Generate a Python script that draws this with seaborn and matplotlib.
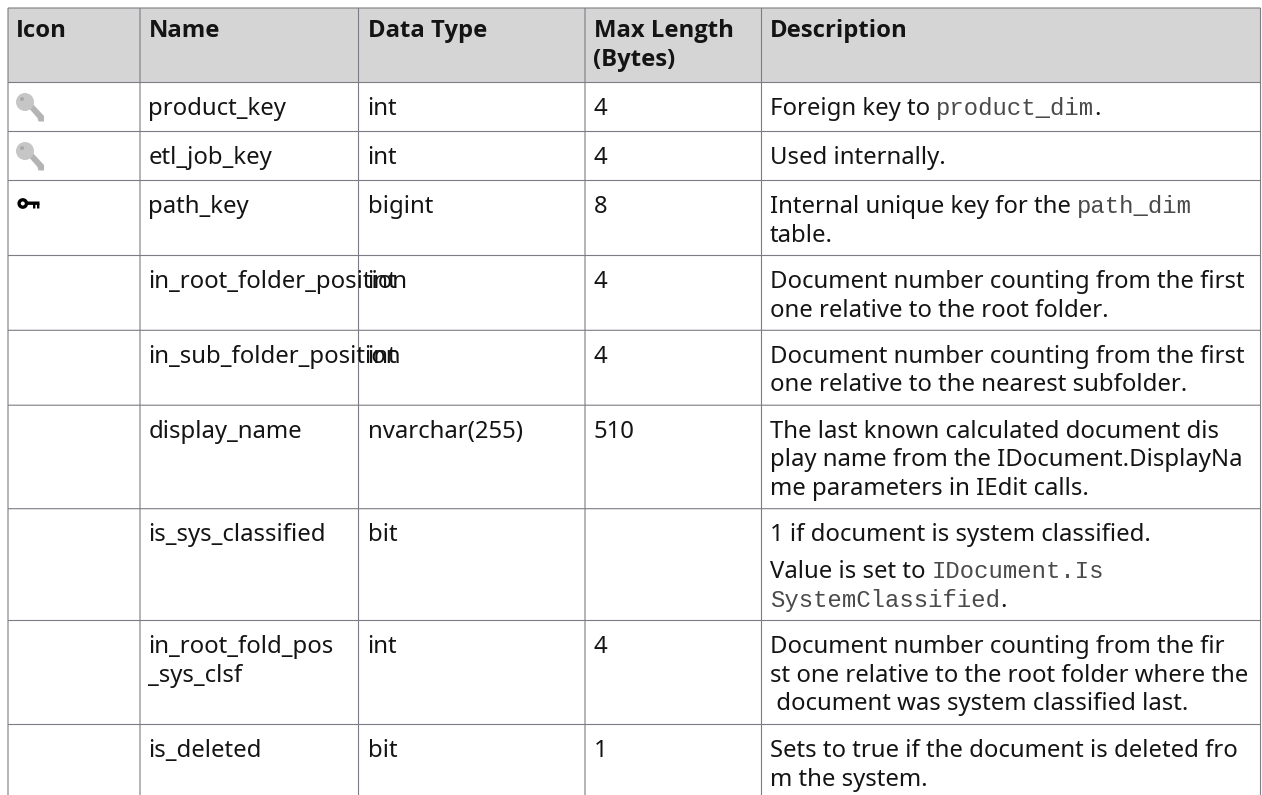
import matplotlib
matplotlib.use('Agg')
import matplotlib.pyplot as plt
from matplotlib.patches import Circle, Polygon, Rectangle
import pandas as pd
import seaborn as sns

# table content
headers = ['Icon', 'Name', 'Data Type', ['Max Length', '(Bytes)'], 'Description']
icons = ['foreign', 'foreign', 'primary', None, None, None, None, None, None]
names = ['product_key', 'etl_job_key', 'path_key', 'in_root_folder_position',
         'in_sub_folder_position', 'display_name', 'is_sys_classified',
         ['in_root_fold_pos', '_sys_clsf'], 'is_deleted']
data_types = ['int', 'int', 'bigint', 'int', 'int', 'nvarchar(255)', 'bit', 'int', 'bit']
max_lengths = ['4', '4', '8', '4', '4', '510', '', '4', '1']
# each description is a list of lines, a line is a list of (text, is_code) runs
descriptions = [
    [[('Foreign key to ', False), ('product_dim', True), ('.', False)]],
    [[('Used internally.', False)]],
    [[('Internal unique key for the ', False), ('path_dim', True)], [('table.', False)]],
    [[('Document number counting from the first', False)], [('one relative to the root folder.', False)]],
    [[('Document number counting from the first', False)], [('one relative to the nearest subfolder.', False)]],
    [[('The last known calculated document dis', False)],
     [('play name from the IDocument.DisplayNa', False)],
     [('me parameters in IEdit calls.', False)]],
    [[('1 if document is system classified.', False)],
     [('Value is set to ', False), ('IDocument.Is', True)],
     [('SystemClassified', True), ('.', False)]],
    [[('Document number counting from the fir', False)],
     [('st one relative to the root folder where the', False)],
     [(' document was system classified last.', False)]],
    [[('Sets to true if the document is deleted fro', False)], [('m the system.', False)]],
]

# layout, in pixels
col_edges = [8.0, 140.0, 358.5, 585.0, 761.5, 1260.5]
row_edges = [8.0, 82.5, 131.5, 180.5, 255.5, 330.3, 405.2, 508.7, 620.5, 724.5]
text_x = [16, 148.5, 367.5, 593.5, 770]
line_step = 28.8
head_baseline = 28.8
first_baseline = 32.3
# extra gap before the second paragraph of a description
para_gap = {(6, 1): 8.2}
BOTTOM = 795
font_px = 23.9
line_color = '#7c7c84'
header_color = '#d5d5d5'
text_color = '#141414'

sns.set_theme(style='white')
plt.rcParams['font.family'] = ['Noto Sans', 'DejaVu Sans']
plt.rcParams['path.snap'] = False

dpi = 100
fontsize = font_px * 72 / dpi
fig = plt.figure(figsize=(12.62, 7.95), dpi=dpi)
ax = fig.add_axes([0, 0, 1, 1])
sns.despine(ax=ax, left=True, bottom=True)

ax.add_patch(Rectangle((col_edges[0], row_edges[0]), col_edges[-1] - col_edges[0],
                       row_edges[1] - row_edges[0], fc=header_color, ec='none', zorder=0))

# grid rules as a long table, one unit per rule
rules = []
for i, y in enumerate(row_edges):
    rules += [(f'h{i}', col_edges[0], y), (f'h{i}', col_edges[-1], y)]
for i, x in enumerate(col_edges):
    rules += [(f'v{i}', x, row_edges[0]), (f'v{i}', x, BOTTOM)]
rules = pd.DataFrame(rules, columns=['rule', 'x', 'y'])
sns.lineplot(data=rules, x='x', y='y', units='rule', estimator=None, sort=False,
             color=line_color, linewidth=0.8, ax=ax, legend=False, zorder=1,
             solid_capstyle='butt')
ax.set_xlim(0, 1262)
ax.set_ylim(795, 0)
ax.axis('off')

fig.canvas.draw()
renderer = fig.canvas.get_renderer()


def advance(s, **kw):
    # width with trailing spaces kept, measured against a bar
    a = ax.text(0, 0, s + '|', fontsize=fontsize, **kw)
    b = ax.text(0, 0, '|', fontsize=fontsize, **kw)
    w = a.get_window_extent(renderer).width - b.get_window_extent(renderer).width
    a.remove()
    b.remove()
    return w


def draw_cell(x, baseline, value, **kw):
    lines = value if isinstance(value, list) else [value]
    for i, line in enumerate(lines):
        ax.text(x, baseline + i * line_step, line, va='baseline', ha='left',
                color=text_color, fontsize=fontsize, zorder=3, **kw)


def draw_runs(x, baseline, runs):
    for s, is_code in runs:
        if is_code:
            ax.text(x, baseline, s, va='baseline', ha='left', color='#4a4a4a',
                    family='Liberation Mono', fontsize=fontsize, zorder=3)
            x += advance(s, family='Liberation Mono')
        else:
            ax.text(x, baseline, s, va='baseline', ha='left', color=text_color,
                    fontsize=fontsize, zorder=3)
            x += advance(s)


def foreign_key(top):
    # grey key, head upper left and shaft running down right
    cx, cy = 25, top + 19.5
    ax.add_patch(Polygon([(27, cy + 4), (31, cy), (44, cy + 14), (44, cy + 19.5), (38.5, cy + 19.5),
                          (37.5, cy + 16)], fc='#b4b4b4', ec='none', zorder=2))
    ax.add_patch(Circle((cx, cy), 9, fc='#c6c6c6', ec='none', zorder=2))
    ax.add_patch(Circle((cx - 3, cy - 3), 2, fc='#a8a8a8', ec='none', zorder=2))


def primary_key(top):
    # small black key lying flat
    cy = top + 23
    ax.add_patch(Circle((22.8, cy), 3.7, fc='none', ec='black', lw=2.4, zorder=2))
    ax.add_patch(Rectangle((27, cy - 2), 12.5, 3.4, fc='black', ec='none', zorder=2))
    ax.add_patch(Rectangle((33, cy), 2.4, 5, fc='black', ec='none', zorder=2))
    ax.add_patch(Rectangle((37, cy), 2.4, 5, fc='black', ec='none', zorder=2))


for x, head in zip(text_x, headers):
    draw_cell(x, row_edges[0] + head_baseline, head, family='Open Sans', fontweight='bold')

for r in range(len(names)):
    top = row_edges[r + 1]
    baseline = top + first_baseline
    if icons[r] == 'foreign':
        foreign_key(top)
    elif icons[r] == 'primary':
        primary_key(top)
    draw_cell(text_x[1], baseline, names[r])
    draw_cell(text_x[2], baseline, data_types[r])
    draw_cell(text_x[3], baseline, max_lengths[r])
    gap = 0
    for i, runs in enumerate(descriptions[r]):
        gap += para_gap.get((r, i), 0)
        draw_runs(text_x[4], baseline + i * line_step + gap, runs)

plt.savefig('out.png', dpi=dpi)
